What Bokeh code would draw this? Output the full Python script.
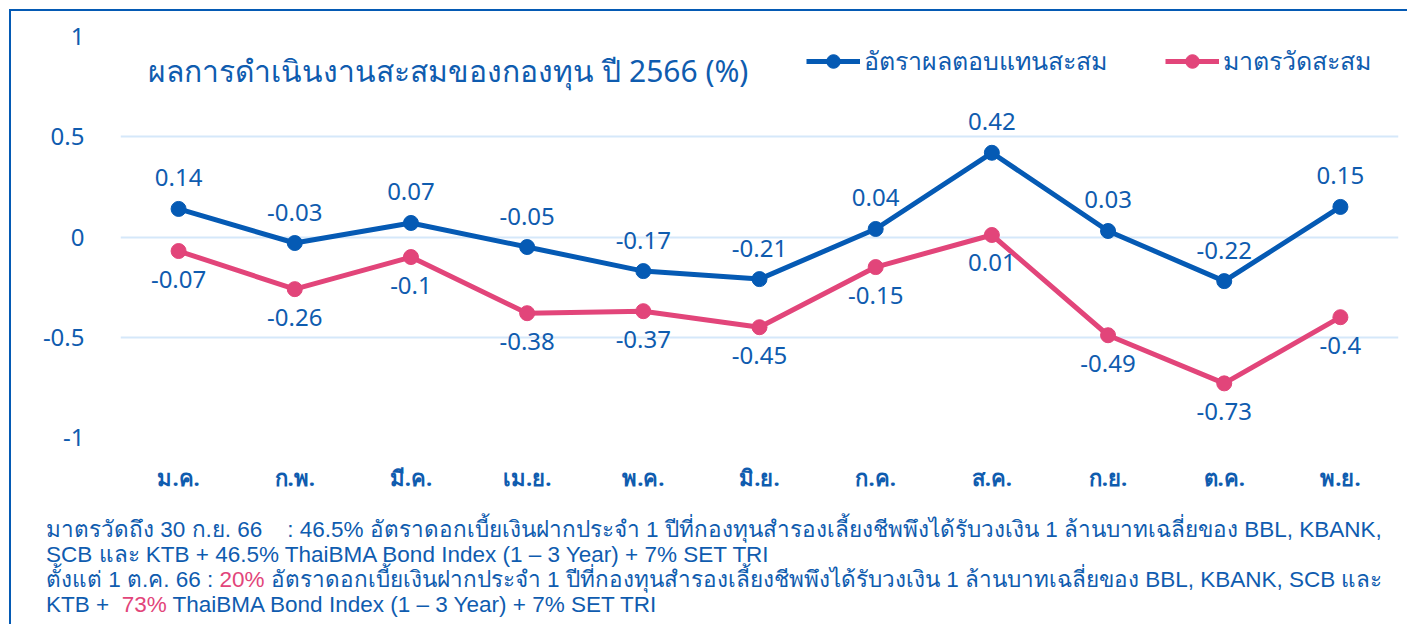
from bokeh.plotting import figure
from bokeh.models import (ColumnDataSource, FactorRange, Range1d, FixedTicker, Label,
                          Legend, LegendItem, Div)
from bokeh.layouts import column
from bokeh.embed import file_html
from bokeh.resources import INLINE

months = ["ม.ค.", "ก.พ.", "มี.ค.", "เม.ย.", "พ.ค.", "มิ.ย.", "ก.ค.", "ส.ค.", "ก.ย.", "ต.ค.", "พ.ย."]
fund_return = [0.14, -0.03, 0.07, -0.05, -0.17, -0.21, 0.04, 0.42, 0.03, -0.22, 0.15]
benchmark = [-0.07, -0.26, -0.1, -0.38, -0.37, -0.45, -0.15, 0.01, -0.49, -0.73, -0.4]
y_ticks = [-1, -0.5, 0, 0.5, 1]
y_tick_labels = ["-1", "-0.5", "0", "0.5", "1"]

title_text = "ผลการดำเนินงานสะสมของกองทุน ปี 2566 (%)"
series_names = ["อัตราผลตอบแทนสะสม", "มาตรวัดสะสม"]

BLUE = "#055ab4"
TEXT = "#0f5caf"
PINK = "#e2457a"
GRID = "#d5e8fa"
FONT = "Noto Sans"
NOTE_FONT = "Liberation Sans"

src = ColumnDataSource(dict(
    m=months, a=fund_return, b=benchmark,
    at=[str(v) for v in fund_return], bt=[str(v) for v in benchmark],
))

p = figure(x_range=FactorRange(*months), y_range=Range1d(-1, 1),
           frame_width=1278, frame_height=401, output_backend="svg", toolbar_location=None,
           min_border_left=109, min_border_right=1, min_border_top=25, min_border_bottom=10)
p.outline_line_color = None
p.xgrid.grid_line_color = None
p.ygrid.grid_line_color = GRID
p.ygrid.grid_line_width = 2
p.yaxis.ticker = FixedTicker(ticks=y_ticks)
p.yaxis.major_label_overrides = {t: l for t, l in zip(y_ticks, y_tick_labels)}
for ax in (p.xaxis[0], p.yaxis[0]):
    ax.axis_line_color = None
    ax.major_tick_line_color = None
    ax.minor_tick_line_color = None
    ax.major_label_text_color = TEXT
    ax.major_label_text_font = FONT
p.yaxis.major_label_text_font_size = "24px"
p.xaxis.major_label_text_font_size = "22px"
p.yaxis.major_label_standoff = 30
p.xaxis.major_label_standoff = 18
p.xaxis.major_label_text_font_style = "bold"

la = p.line("m", "a", source=src, line_color=BLUE, line_width=5)
ca = p.scatter("m", "a", source=src, size=15, fill_color=BLUE, line_color=BLUE)
lb = p.line("m", "b", source=src, line_color=PINK, line_width=5)
cb = p.scatter("m", "b", source=src, size=15, fill_color=PINK, line_color=PINK)

p.text("m", "a", text="at", source=src, y_offset=-31, text_align="center",
       text_baseline="middle", text_color=TEXT, text_font_size="24px",
       text_font={"value": FONT})
p.text("m", "b", text="bt", source=src, y_offset=28, text_align="center",
       text_baseline="middle", text_color=TEXT, text_font_size="24px",
       text_font={"value": FONT})

p.add_layout(Label(x=0.24, y=0.83, text=title_text, text_baseline="middle",
                   text_color=TEXT, text_font=FONT, text_font_size="30px"))

legend = Legend(items=[LegendItem(label=series_names[0], renderers=[la, ca]),
                       LegendItem(label=series_names[1], renderers=[lb, cb])],
                orientation="horizontal", location=(686, 356),
                glyph_width=54, glyph_height=34, label_text_font=FONT,
                label_text_font_size="25px", label_text_color=TEXT,
                label_standoff=4, spacing=58, padding=0, margin=0,
                background_fill_alpha=0, border_line_color=None)
p.add_layout(legend)

note = Div(width=1388, height=121, text=(
    "มาตรวัดถึง 30 ก.ย. 66&nbsp;&nbsp;&nbsp;&nbsp;: 46.5% อัตราดอกเบี้ยเงินฝากประจำ 1 ปีที่กองทุนสำรองเลี้ยงชีพพึงได้รับวงเงิน 1 ล้านบาทเฉลี่ยของ BBL, KBANK,<br>"
    "SCB และ KTB + 46.5% ThaiBMA Bond Index (1 – 3 Year) + 7% SET TRI<br>"
    "ตั้งแต่ 1 ต.ค. 66 : <span style='color:" + PINK + "'>20%</span> อัตราดอกเบี้ยเงินฝากประจำ 1 ปีที่กองทุนสำรองเลี้ยงชีพพึงได้รับวงเงิน 1 ล้านบาทเฉลี่ยของ BBL, KBANK, SCB และ<br>"
    "KTB +&nbsp; <span style='color:" + PINK + "'>73%</span> ThaiBMA Bond Index (1 – 3 Year) + 7% SET TRI"),
    styles={"font-family": NOTE_FONT, "font-size": "22.5px", "color": TEXT,
            "line-height": "25px", "padding-left": "30px", "padding-top": "18px",
            "white-space": "nowrap"})

layout = column(p, note, spacing=0, margin=(9, 0, 0, 9),
                styles={"border-left": "2px solid " + BLUE, "border-top": "2px solid " + BLUE})

open("out.html", "w").write(file_html(layout, INLINE))
